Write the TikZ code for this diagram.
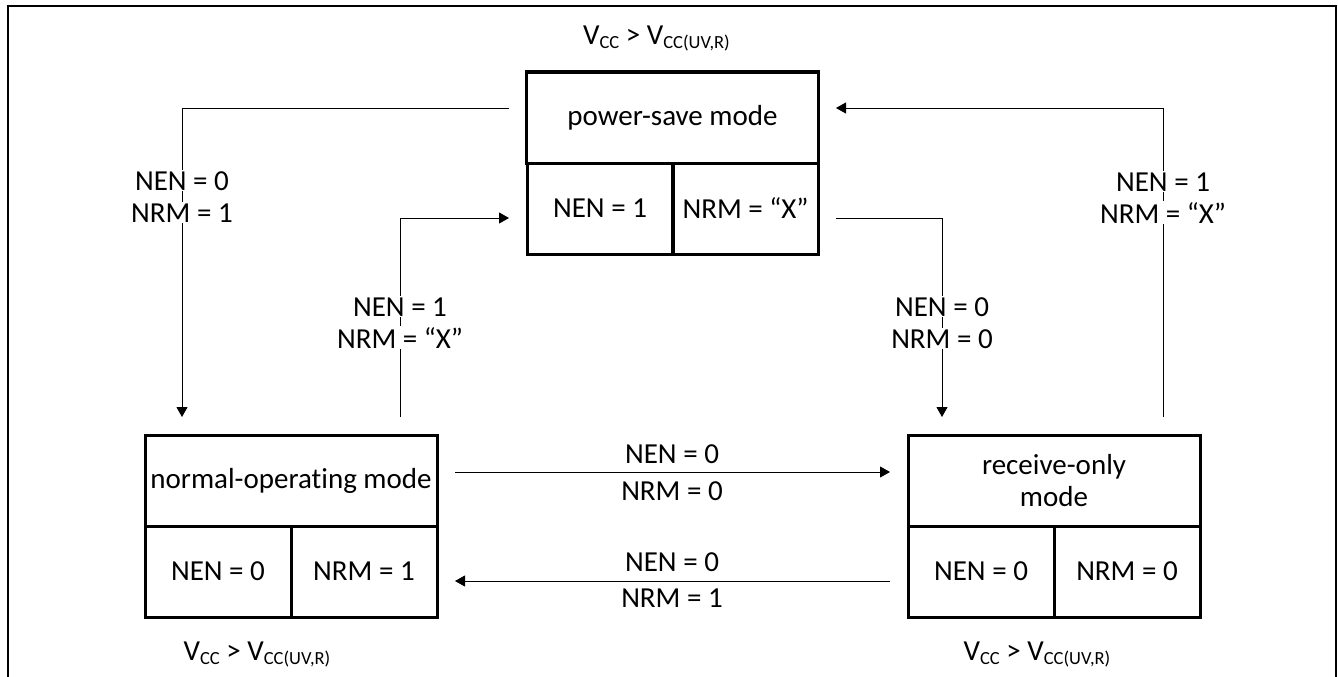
\documentclass[tikz,border=0pt]{standalone}
\usepackage{fontspec}
\setmainfont{Carlito}[Ligatures=NoCommon]
\usetikzlibrary{arrows.meta,calc}
\newcommand{\ssub}[1]{\raisebox{-4pt}{\fontsize{18.5}{18.5}\selectfont #1}}
\begin{document}
\begin{tikzpicture}[x=1pt,y=-1pt,
  txt/.style={font=\fontsize{29}{32}\selectfont},
  cellbox/.style={txt,draw,line width=3pt,inner sep=0pt,align=center,minimum height=91pt},
  headcell/.style={cellbox,minimum width=292pt},
  halfcell/.style={cellbox,minimum width=146pt},
  conn/.style={line width=1pt},
  arr/.style={conn,-{Triangle[length=10pt,width=11pt]}},
  lbl/.style={txt,anchor=base,fill=white,inner xsep=3pt,inner ysep=1pt},
  hlbl/.style={txt,anchor=base,inner sep=0pt},
  frame/.style={line width=2pt}]
\useasboundingbox (0,0) rectangle (1338,677);
\draw[frame] (8,677) -- (8,6) -- (1336,6) -- (1336,677);

% power-save mode
\node[headcell] (ps) at (672.5,117.5) {power-save mode};
\node[halfcell] (psa) at (600,208.5) {NEN = 1};
\node[halfcell] (psb) at (745.5,208.5) {NRM = “X”};
\node[hlbl] (psv) at (656.5,45) {V\ssub{CC} > V\ssub{CC(UV,R)}};

% normal-operating mode
\node[headcell] (no) at (291,480.5) {normal-operating mode};
\node[halfcell] (noa) at (218,571.5) {NEN = 0};
\node[halfcell] (nob) at (364,571.5) {NRM = 1};
\node[hlbl] (nov) at (257,660) {V\ssub{CC} > V\ssub{CC(UV,R)}};

% receive-only mode
\node[headcell] (ro) at (1054,480.5) {receive-only\\mode};
\node[halfcell] (roa) at (981,571.5) {NEN = 0};
\node[halfcell] (rob) at (1127,571.5) {NRM = 0};
\node[hlbl] (rov) at (1037,660) {V\ssub{CC} > V\ssub{CC(UV,R)}};

% connector end points
\coordinate (c1s) at (509,108);
\coordinate (c1k) at (182,108);
\coordinate (c1e) at (182,417);
\coordinate (c2s) at (400,417);
\coordinate (c2k) at (400,218);
\coordinate (c2e) at (509,218);
\coordinate (c3s) at (836,218);
\coordinate (c3k) at (942,218);
\coordinate (c3e) at (942,417);
\coordinate (c4s) at (1163,417);
\coordinate (c4k) at (1163,108);
\coordinate (c4e) at (836,108);
\coordinate (c5s) at (455,472);
\coordinate (c5e) at (890,472);
\coordinate (c6s) at (890,581);
\coordinate (c6e) at (455,581);

\draw[arr] (c1s) -- (c1k) -- (c1e);
\draw[arr] (c2s) -- (c2k) -- (c2e);
\draw[arr] (c3s) -- (c3k) -- (c3e);
\draw[arr] (c4s) -- (c4k) -- (c4e);
\draw[arr] (c5s) -- (c5e);
\draw[arr] (c6s) -- (c6e);

% labels
\node[lbl] (l1a) at (182,190) {NEN = 0};
\node[lbl] (l1b) at (182,222) {NRM = 1};
\node[lbl] (l2a) at (400,316) {NEN = 1};
\node[lbl] (l2b) at (400,348) {NRM = “X”};
\node[lbl] (l3a) at (942,316) {NEN = 0};
\node[lbl] (l3b) at (942,348) {NRM = 0};
\node[lbl] (l4a) at (1163,191) {NEN = 1};
\node[lbl] (l4b) at (1163,223) {NRM = “X”};
\node[hlbl] (l5a) at (672,463) {NEN = 0};
\node[hlbl] (l5b) at (672,500) {NRM = 0};
\node[hlbl] (l6a) at (672,571) {NEN = 0};
\node[hlbl] (l6b) at (672,607) {NRM = 1};
\end{tikzpicture}
\end{document}
